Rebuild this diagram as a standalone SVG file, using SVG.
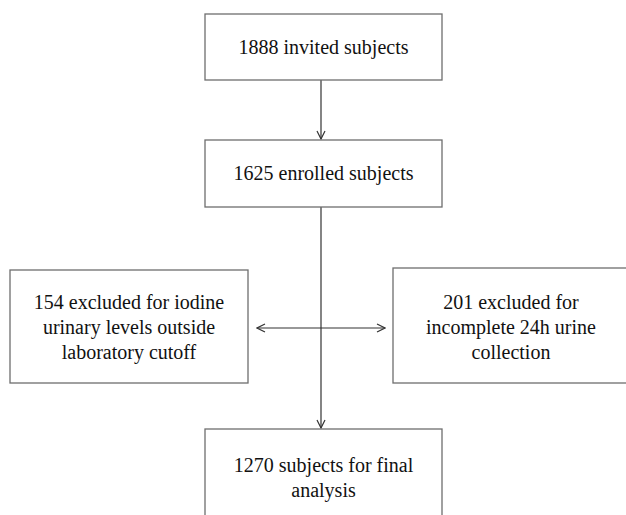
<svg xmlns="http://www.w3.org/2000/svg" width="626" height="515" viewBox="0 0 626 515">
  <style>
    .box { fill: #ffffff; stroke: #6e6e6e; stroke-width: 1.3; }
    .txt { font-family: "Times New Roman", Times, "Liberation Serif", Tinos, "Nimbus Roman", "FreeSerif", "DejaVu Serif", serif; font-size: 20px; fill: #111111; text-anchor: middle; }
    .conn { stroke: #333333; stroke-width: 1.2; fill: none; }
  </style>
  <defs>
    <marker id="arr" viewBox="0 0 10 10" refX="9" refY="5" markerWidth="10" markerHeight="10" markerUnits="userSpaceOnUse" orient="auto-start-reverse">
      <path d="M1,1 L9,5 L1,9" fill="none" stroke="#333333" stroke-width="1.2"/>
    </marker>
  </defs>
  <rect width="626" height="515" fill="#ffffff"/>
  <g id="connectors">
    <line class="conn" x1="321" y1="80" x2="321" y2="139" marker-end="url(#arr)"/>
    <line class="conn" x1="321" y1="207" x2="321" y2="428" marker-end="url(#arr)"/>
    <line class="conn" x1="257" y1="328" x2="385" y2="328" marker-start="url(#arr)" marker-end="url(#arr)"/>
  </g>
  <g id="invited">
    <rect class="box" x="205" y="14" width="237" height="66"/>
    <text class="txt" x="323.5" y="54">1888 invited subjects</text>
  </g>
  <g id="enrolled">
    <rect class="box" x="205" y="140" width="237" height="67"/>
    <text class="txt" x="323.5" y="180">1625 enrolled subjects</text>
  </g>
  <g id="excluded-iodine">
    <rect class="box" x="10" y="270" width="238" height="113"/>
    <text class="txt" x="129" y="309">154 excluded for iodine</text>
    <text class="txt" x="129" y="334">urinary levels outside</text>
    <text class="txt" x="129" y="359">laboratory cutoff</text>
  </g>
  <g id="excluded-urine">
    <rect class="box" x="393" y="268" width="237" height="115"/>
    <text class="txt" x="511" y="309">201 excluded for</text>
    <text class="txt" x="511" y="334">incomplete 24h urine</text>
    <text class="txt" x="511" y="359">collection</text>
  </g>
  <g id="final">
    <rect class="box" x="205" y="429" width="237" height="110"/>
    <text class="txt" x="323.5" y="472">1270 subjects for final</text>
    <text class="txt" x="323.5" y="497">analysis</text>
  </g>
</svg>
